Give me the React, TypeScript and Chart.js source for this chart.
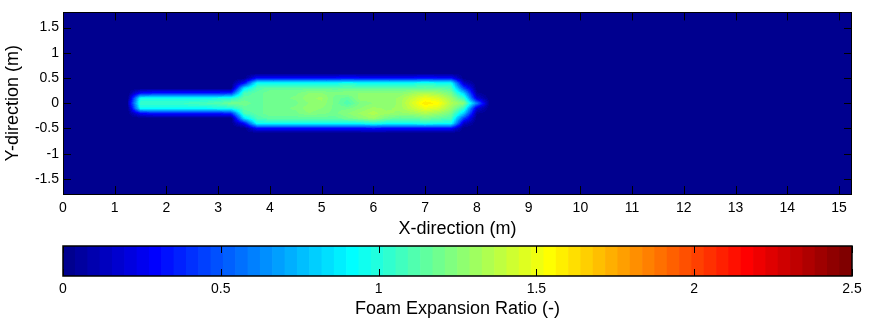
import React, { useEffect, useRef } from "react";
import { Chart, registerables } from "chart.js";
Chart.register(...registerables);

// ---- axes ----
const X_MIN = 0;
const X_MAX = 15.25;
const Y_MIN = -1.8;
const Y_MAX = 1.8;
const C_MIN = 0;
const C_MAX = 2.5;
const xTicks = [0, 1, 2, 3, 4, 5, 6, 7, 8, 9, 10, 11, 12, 13, 14, 15];
const yTicks = [-1.5, -1, -0.5, 0, 0.5, 1, 1.5];
const cbTicks = [0, 0.5, 1, 1.5, 2, 2.5];

// ---- foam expansion ratio grid ----
const foamX = [1.25, 1.5, 1.75, 2, 2.25, 2.5, 2.75, 3, 3.25, 3.5, 3.75, 4, 4.25, 4.5, 4.75, 5, 5.25, 5.5, 5.75, 6, 6.25, 6.5, 6.75, 7, 7.25, 7.5, 7.75, 8, 8.25];
const foamY = [0.5, 0.4, 0.3, 0.2, 0.1, 0, -0.1, -0.2, -0.3, -0.4, -0.5];
const foamEdgeY = [0.6, -0.6]; // rows where the foam has vanished (value 0)

const row_p05 = [0, 0, 0, 0, 0, 0, 0, 0, 0, 0, 0.3, 0.3, 0.3, 0.3, 0.3, 0.3, 0.3, 0.32, 0.3, 0.3, 0.3, 0.3, 0.3, 0.32, 0.3, 0.3, 0, 0, 0];
const row_p04 = [0, 0, 0, 0, 0, 0, 0, 0, 0, 0.3, 0.95, 0.95, 0.95, 0.95, 0.95, 0.95, 0.95, 0.98, 0.95, 0.95, 0.95, 0.95, 0.95, 1.0, 0.95, 0.95, 0.15, 0, 0];
const row_p03 = [0, 0, 0, 0, 0, 0, 0, 0, 0, 0.85, 1.1, 1.15, 1.15, 1.15, 1.15, 1.15, 1.15, 1.15, 1.15, 1.15, 1.15, 1.15, 1.15, 1.15, 1.15, 1.1, 0.45, 0, 0];
const row_p02 = [0, 0.3, 0.35, 0.35, 0.35, 0.35, 0.35, 0.35, 0.4, 1.1, 1.15, 1.2, 1.2, 1.2, 1.25, 1.25, 1.22, 1.25, 1.25, 1.25, 1.25, 1.25, 1.3, 1.35, 1.3, 1.2, 0.8, 0.05, 0];
const row_p01 = [0, 0.95, 0.95, 0.95, 0.95, 0.95, 0.95, 0.98, 1.0, 1.15, 1.15, 1.2, 1.2, 1.22, 1.28, 1.3, 1.2, 1.15, 1.28, 1.28, 1.25, 1.3, 1.4, 1.5, 1.45, 1.3, 1.05, 0.2, 0];
const row_000 = [0.1, 1.05, 1.05, 1.05, 1.05, 1.08, 1.1, 1.12, 1.2, 1.2, 1.15, 1.2, 1.2, 1.2, 1.25, 1.28, 1.2, 1.1, 1.22, 1.25, 1.25, 1.3, 1.45, 1.6, 1.55, 1.35, 1.25, 0.6, 0];
const row_m01 = [0, 0.95, 0.95, 0.95, 0.95, 0.95, 0.95, 0.98, 1.0, 1.15, 1.15, 1.2, 1.2, 1.22, 1.28, 1.25, 1.2, 1.2, 1.25, 1.3, 1.28, 1.3, 1.4, 1.5, 1.45, 1.3, 1.05, 0.2, 0];
const row_m02 = [0, 0.3, 0.35, 0.35, 0.35, 0.35, 0.35, 0.35, 0.4, 1.1, 1.15, 1.2, 1.2, 1.2, 1.25, 1.22, 1.2, 1.25, 1.3, 1.35, 1.3, 1.28, 1.3, 1.35, 1.3, 1.2, 0.8, 0.05, 0];
const row_m03 = [0, 0, 0, 0, 0, 0, 0, 0, 0, 0.85, 1.1, 1.15, 1.15, 1.15, 1.15, 1.15, 1.15, 1.2, 1.25, 1.3, 1.2, 1.15, 1.15, 1.2, 1.15, 1.1, 0.45, 0, 0];
const row_m04 = [0, 0, 0, 0, 0, 0, 0, 0, 0, 0.3, 0.95, 0.95, 0.95, 0.95, 0.95, 0.95, 0.95, 0.95, 0.95, 1.0, 0.95, 0.95, 0.95, 1.0, 0.95, 0.95, 0.15, 0, 0];
const row_m05 = [0, 0, 0, 0, 0, 0, 0, 0, 0, 0, 0.3, 0.3, 0.3, 0.3, 0.3, 0.3, 0.3, 0.3, 0.3, 0.32, 0.3, 0.3, 0.3, 0.3, 0.3, 0.3, 0, 0, 0];
const foamRows = [row_p05, row_p04, row_p03, row_p02, row_p01, row_000, row_m01, row_m02, row_m03, row_m04, row_m05];

// ---- jet colormap (64 levels, as MATLAB) ----
const N_LEVELS = 64;
function jetChannel(j: number): number {
  if (j < 1 || j > 47) return 0;
  if (j <= 16) return j / 16;
  if (j <= 31) return 1;
  return (48 - j) / 16;
}
const JET: string[] = [];
for (let k = 0; k < N_LEVELS; k++) {
  const m = k + 1;
  const r = Math.round(jetChannel(m - 24) * 255);
  const g = Math.round(jetChannel(m - 8) * 255);
  const b = Math.round(jetChannel(m + 8) * 255);
  JET.push(`rgb(${r},${g},${b})`);
}
function colorFor(v: number): string {
  let k = Math.floor(((v - C_MIN) / (C_MAX - C_MIN)) * N_LEVELS);
  if (k < 0) k = 0;
  if (k > N_LEVELS - 1) k = N_LEVELS - 1;
  return JET[k];
}

const FONT_FAMILY = "'Liberation Sans', Arial, Helvetica, sans-serif";

const heatmapPlugin = {
  id: "heatmap",
  beforeDatasetsDraw(chart: any) {
    const { ctx, chartArea } = chart;
    const xs = chart.scales.x;
    const ys = chart.scales.y;
    ctx.save();
    ctx.beginPath();
    ctx.rect(chartArea.left, chartArea.top, chartArea.width, chartArea.height);
    ctx.clip();
    // whole domain at value 0
    const bx0 = xs.getPixelForValue(X_MIN);
    const bx1 = xs.getPixelForValue(X_MAX);
    const by0 = ys.getPixelForValue(Y_MAX);
    const by1 = ys.getPixelForValue(Y_MIN);
    ctx.fillStyle = colorFor(0);
    ctx.fillRect(bx0, by0, bx1 - bx0, by1 - by0);

    // foam grid with zero rows at the edges, interpolated shading
    const gy = [foamEdgeY[0], ...foamY, foamEdgeY[1]];
    const zero = foamX.map(() => 0);
    const gv = [zero, ...foamRows, zero];
    for (let j = 0; j < gy.length - 1; j++) {
      const py0 = ys.getPixelForValue(gy[j]);
      const py1 = ys.getPixelForValue(gy[j + 1]);
      const iy0 = Math.round(py0);
      const iy1 = Math.round(py1);
      for (let i = 0; i < foamX.length - 1; i++) {
        const px0 = xs.getPixelForValue(foamX[i]);
        const px1 = xs.getPixelForValue(foamX[i + 1]);
        const ix0 = Math.round(px0);
        const ix1 = Math.round(px1);
        const v00 = gv[j][i], v01 = gv[j][i + 1], v10 = gv[j + 1][i], v11 = gv[j + 1][i + 1];
        if (v00 === 0 && v01 === 0 && v10 === 0 && v11 === 0) continue;
        for (let py = iy0; py < iy1; py++) {
          let s = (py + 0.5 - py0) / (py1 - py0);
          s = Math.max(0, Math.min(1, s));
          for (let px = ix0; px < ix1; px++) {
            let t = (px + 0.5 - px0) / (px1 - px0);
            t = Math.max(0, Math.min(1, t));
            const v = (1 - s) * ((1 - t) * v00 + t * v01) + s * ((1 - t) * v10 + t * v11);
            ctx.fillStyle = colorFor(v);
            ctx.fillRect(px, py, 1, 1);
          }
        }
      }
    }
    ctx.restore();
  },
};

const mainAxesPlugin = {
  id: "mainAxes",
  afterDraw(chart: any) {
    const { ctx, chartArea } = chart;
    const xs = chart.scales.x;
    const ys = chart.scales.y;
    const L = 8;
    ctx.save();
    ctx.strokeStyle = "#000";
    ctx.lineWidth = 1;
    ctx.beginPath();
    for (const v of xTicks) {
      const px = Math.round(xs.getPixelForValue(v)) + 0.5;
      ctx.moveTo(px, chartArea.bottom);
      ctx.lineTo(px, chartArea.bottom - L);
      ctx.moveTo(px, chartArea.top);
      ctx.lineTo(px, chartArea.top + L);
    }
    for (const v of yTicks) {
      const py = Math.round(ys.getPixelForValue(v)) + 0.5;
      ctx.moveTo(chartArea.left, py);
      ctx.lineTo(chartArea.left + L, py);
      ctx.moveTo(chartArea.right, py);
      ctx.lineTo(chartArea.right - L, py);
    }
    ctx.stroke();
    ctx.strokeRect(
      Math.round(chartArea.left) + 0.5,
      Math.round(chartArea.top) + 0.5,
      Math.round(chartArea.width) - 1,
      Math.round(chartArea.height)
    );
    ctx.restore();
  },
};

const cbAxesPlugin = {
  id: "cbAxes",
  afterDraw(chart: any) {
    const { ctx, chartArea } = chart;
    const xs = chart.scales.x;
    const L = 7;
    ctx.save();
    ctx.strokeStyle = "#000";
    ctx.lineWidth = 1;
    ctx.beginPath();
    for (const v of cbTicks) {
      const px = Math.round(xs.getPixelForValue(v)) + 0.5;
      ctx.moveTo(px, chartArea.bottom);
      ctx.lineTo(px, chartArea.bottom - L);
      ctx.moveTo(px, chartArea.top);
      ctx.lineTo(px, chartArea.top + L);
    }
    ctx.stroke();
    ctx.lineWidth = 1.5;
    ctx.strokeRect(chartArea.left, chartArea.top, chartArea.width, chartArea.height);
    ctx.restore();
  },
};

export default function App() {
  const mainRef = useRef<HTMLCanvasElement>(null);
  const cbRef = useRef<HTMLCanvasElement>(null);

  useEffect(() => {
    const tickFont = { family: FONT_FAMILY, size: 14 };
    const titleFont = { family: FONT_FAMILY, size: 18 };

    const main = new Chart(mainRef.current as HTMLCanvasElement, {
      type: "scatter",
      data: { datasets: [{ data: [], pointRadius: 0 }] },
      options: {
        responsive: false,
        animation: false,
        devicePixelRatio: 1,
        layout: { padding: { top: 8, right: 18, left: 0, bottom: 0 } },
        plugins: { legend: { display: false }, tooltip: { enabled: false } },
        scales: {
          x: {
            type: "linear",
            min: X_MIN,
            max: X_MAX,
            grid: { display: false, drawTicks: false },
            border: { display: false },
            afterBuildTicks: (s: any) => {
              s.ticks = xTicks.map((v) => ({ value: v }));
            },
            afterFit: (s: any) => {
              s.height = 46;
            },
            ticks: {
              font: tickFont,
              color: "#000",
              padding: 6,
              autoSkip: false,
              maxRotation: 0,
              callback: (v: any) => String(v),
            },
            title: {
              display: true,
              text: "X-direction (m)",
              font: titleFont,
              color: "#000",
              padding: { top: 0, bottom: 0 },
            },
          },
          y: {
            type: "linear",
            min: Y_MIN,
            max: Y_MAX,
            grid: { display: false, drawTicks: false },
            border: { display: false },
            afterBuildTicks: (s: any) => {
              s.ticks = yTicks.map((v) => ({ value: v }));
            },
            afterFit: (s: any) => {
              s.width = 63;
            },
            ticks: {
              font: tickFont,
              color: "#000",
              padding: 4,
              autoSkip: false,
              callback: (v: any) => String(v),
            },
            title: {
              display: true,
              text: "Y-direction (m)",
              font: titleFont,
              color: "#000",
              padding: { top: 2, bottom: 0 },
            },
          },
        },
      } as any,
      plugins: [heatmapPlugin, mainAxesPlugin],
    });

    const levels = JET.map((_, k) => k);
    const cb = new Chart(cbRef.current as HTMLCanvasElement, {
      type: "bar",
      data: {
        labels: ["cb"],
        datasets: [
          {
            data: levels.map((k) => ({
              x: [C_MIN + (k * (C_MAX - C_MIN)) / N_LEVELS, C_MIN + ((k + 1) * (C_MAX - C_MIN)) / N_LEVELS],
              y: "cb",
            })),
            backgroundColor: levels.map((k) => JET[k]),
            borderWidth: 0,
            barPercentage: 1,
            categoryPercentage: 1,
          },
        ],
      } as any,
      options: {
        indexAxis: "y",
        responsive: false,
        animation: false,
        devicePixelRatio: 1,
        layout: { padding: { top: 6, right: 18, left: 63, bottom: 0 } },
        plugins: { legend: { display: false }, tooltip: { enabled: false } },
        scales: {
          x: {
            type: "linear",
            min: C_MIN,
            max: C_MAX,
            grid: { display: false, drawTicks: false },
            border: { display: false },
            afterBuildTicks: (s: any) => {
              s.ticks = cbTicks.map((v) => ({ value: v }));
            },
            afterFit: (s: any) => {
              s.height = 52;
            },
            ticks: {
              font: tickFont,
              color: "#000",
              padding: 5,
              autoSkip: false,
              maxRotation: 0,
              callback: (v: any) => String(v),
            },
            title: {
              display: true,
              text: "Foam Expansion Ratio (-)",
              font: titleFont,
              color: "#000",
              padding: { top: 0, bottom: 8 },
            },
          },
          y: { type: "category", display: false },
        },
      } as any,
      plugins: [cbAxesPlugin],
    });

    return () => {
      main.destroy();
      cb.destroy();
    };
  }, []);

  return (
    <div style={{ position: "absolute", left: 0, top: 0, width: 870, height: 328, background: "#fff" }}>
      <canvas ref={mainRef} width={870} height={240} style={{ position: "absolute", left: 0, top: 0 }} />
      <canvas ref={cbRef} width={870} height={88} style={{ position: "absolute", left: 0, top: 240 }} />
    </div>
  );
}
